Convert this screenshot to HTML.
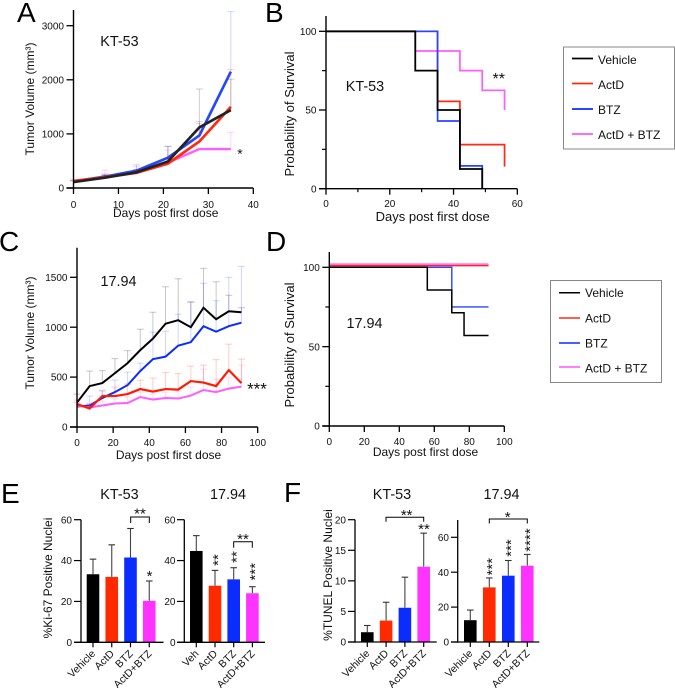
<!DOCTYPE html>
<html>
<head>
<meta charset="utf-8">
<style>
html,body{margin:0;padding:0;background:#fff;}
svg{display:block;font-family:"Liberation Sans",sans-serif;fill:#111;}
</style>
</head>
<body>
<svg id="fig" xmlns="http://www.w3.org/2000/svg" width="675" height="688" viewBox="0 0 675 688">
<rect width="675" height="688" fill="#fff"/>
<g font-size="28" fill="#000">
<text x="17" y="22">A</text>
<text x="265" y="22">B</text>
<text x="-1" y="251">C</text>
<text x="266" y="251">D</text>
<text x="1" y="503">E</text>
<text x="284" y="502">F</text>
</g>
<g font-size="14.4" fill="#111" text-anchor="middle">
<text x="119.5" y="46">KT-53</text>
<text x="365" y="91">KT-53</text>
<text x="118.5" y="286">17.94</text>
<text x="364.5" y="328">17.94</text>
<text x="119.5" y="499">KT-53</text>
<text x="228" y="499">17.94</text>
<text x="392" y="499">KT-53</text>
<text x="501.5" y="499">17.94</text>
</g>
<g font-size="12" fill="#111">
<rect x="563.5" y="47" width="111" height="102" fill="none" stroke="#888" stroke-width="1"/>
<line x1="572" x2="593" y1="58.5" y2="58.5" stroke="#000" stroke-width="1.7"/>
<text x="598" y="64">Vehicle</text>
<line x1="572" x2="593" y1="83.5" y2="83.5" stroke="#ff2a12" stroke-width="1.7"/>
<text x="598" y="89">ActD</text>
<line x1="572" x2="593" y1="109" y2="109" stroke="#0a2cff" stroke-width="1.7"/>
<text x="598" y="114">BTZ</text>
<line x1="572" x2="593" y1="134" y2="134" stroke="#ff55ff" stroke-width="1.7"/>
<text x="598" y="139">ActD + BTZ</text>
</g>
<g font-size="12" fill="#111">
<rect x="550.5" y="280.5" width="111" height="102" fill="none" stroke="#888" stroke-width="1"/>
<line x1="559" x2="580" y1="292.7" y2="292.7" stroke="#000" stroke-width="1.5"/>
<text x="585" y="297">Vehicle</text>
<line x1="559" x2="580" y1="318" y2="318" stroke="#ff2a12" stroke-width="1.5"/>
<text x="585" y="322.5">ActD</text>
<line x1="559" x2="580" y1="343" y2="343" stroke="#0a2cff" stroke-width="1.5"/>
<text x="585" y="347.5">BTZ</text>
<line x1="559" x2="580" y1="367" y2="367" stroke="#ff55ff" stroke-width="1.5"/>
<text x="585" y="372.5">ActD + BTZ</text>
</g>
</svg>
<script>
/* ---------- Panel A data ---------- */
var aDays = [0, 7, 14, 21, 28, 35];
var aVehicle = [110, 190, 290, 490, 1120, 1440];
var aActD = [130, 200, 280, 450, 860, 1500];
var aBTZ = [120, 210, 320, 560, 970, 2150];
var aCombo = [120, 210, 300, 470, 720, 720];
var aVehicleTop = [130, 240, 340, 770, 1830, 2010];
var aActDTop = [150, 240, 330, 560, 1190, 2190];
var aBTZTop = [140, 260, 430, 770, 1230, 3260];
var aComboTop = [140, 330, 400, 700, 730, 1030];
var aXTicks = [0, 10, 20, 30, 40];
var aYTicks = [0, 1000, 2000, 3000];

/* ---------- Panel C data ---------- */
var cDays = [0, 7, 14, 21, 28, 35, 42, 49, 56, 63, 70, 77, 84, 91];
var cVehicle = [245, 410, 440, 540, 640, 770, 885, 1035, 1070, 1000, 1195, 1080, 1160, 1150];
var cBTZ = [205, 215, 290, 350, 420, 560, 680, 705, 815, 850, 1010, 955, 1010, 1045];
var cActD = [230, 185, 310, 310, 330, 380, 355, 380, 375, 460, 445, 410, 570, 440];
var cCombo = [215, 195, 215, 235, 240, 300, 275, 290, 285, 315, 370, 350, 385, 405];
var cVehicleTop = [330, 560, 565, 685, 765, 980, 1150, 1405, 1485, 1255, 1590, 1455, 1320, 1195];
var cBTZTop = [250, 310, 360, 470, 550, 640, 950, 960, 1130, 1250, 1440, 1265, 1500, 1610];
var cActDTop = [270, 230, 370, 400, 430, 470, 490, 545, 535, 610, 620, 675, 830, 680];
var cComboTop = [240, 240, 260, 280, 300, 350, 330, 350, 360, 400, 580, 480, 500, 620];
var cXTicks = [0, 20, 40, 60, 80, 100];
var cYTicks = [0, 500, 1000, 1500];

/* ---------- Panel B data ---------- */
var bVehicleT = [0, 28, 35, 42, 49];
var bVehicleS = [100, 75, 50, 12.5, 0];
var bActDT = [0, 35, 42, 56];
var bActDS = [100, 55.5, 28, 14];
var bBTZT = [0, 35, 42, 49];
var bBTZS = [100, 43, 14.5, 0];
var bComboT = [0, 28, 42, 49, 56];
var bComboS = [100, 87.5, 75, 62.5, 50];
var bXTicks = [0, 20, 40, 60];
var bXMinor = [10, 30, 50];
var survivalYTicks = [0, 50, 100];
var survivalYMinor = [25, 75];

/* ---------- Panel D data ---------- */
var dEnd = 91;
var dVehicleT = [0, 56, 70, 77];
var dVehicleS = [100, 85.7, 71.4, 57];
var dActDT = [0];
var dActDS = [101];
var dBTZT = [0, 70];
var dBTZS = [100, 75];
var dComboT = [0];
var dComboS = [102];
var dXTicks = [0, 20, 40, 60, 80, 100];

/* ---------- Bar panels data ---------- */
var e1Labels = ['Vehicle', 'ActD', 'BTZ', 'ActD+BTZ'];
var e1Means = [33.3, 32, 41.5, 20.3];
var e1Tops = [40.7, 47.7, 55.7, 30];
var e2Labels = ['Veh', 'ActD', 'BTZ', 'ActD+BTZ'];
var e2Means = [44.7, 27.7, 30.8, 24];
var e2Tops = [52.2, 35.2, 36.5, 27.2];
var f1Labels = ['Vehicle', 'ActD', 'BTZ', 'ActD+BTZ'];
var f1Means = [1.6, 3.5, 5.6, 12.3];
var f1Tops = [2.7, 6.5, 10.6, 17.8];
var f2Labels = ['Vehicle', 'ActD', 'BTZ', 'ActD+BTZ'];
var f2Means = [12.5, 31.3, 38, 43.7];
var f2Tops = [18.3, 36.7, 46.7, 50.2];
var eYTicks = [0, 20, 40, 60];
var f1YTicks = [0, 5, 10, 15, 20];
var f2YTicks = [0, 20, 40, 60];

var RED = '#ff2a12', BLUE = '#2447ff', PINK = '#ff5cff', BLACK = '#000';
var BARCOLORS = ['#000', '#ff2a00', '#0a2cff', '#ff33ff'];
var SVGNS = 'http://www.w3.org/2000/svg';
var fig = document.getElementById('fig');

function make(tag, parent, props) {
  var e = document.createElementNS(SVGNS, tag);
  for (var k in props) e.setAttribute(k, props[k]);
  parent.appendChild(e);
  return e;
}
function linear(d0, d1, r0, r1) {
  return function (v) { return r0 + (v - d0) / (d1 - d0) * (r1 - r0); };
}
function group(name) {
  var g = make('g', fig, {});
  
  
  return g;
}
function seg(g, name, x1, y1, x2, y2, color, w, op) {
  var l = make('line', g, {x1: x1, y1: y1, x2: x2, y2: y2, stroke: color, 'stroke-width': w, 'stroke-opacity': op === undefined ? 1 : op});
  
  
  return l;
}
function label(g, name, str, x, y, size, anchor, rot) {
  var t = make('text', g, {x: x, y: y, 'font-size': size, 'text-anchor': anchor || 'middle'});
  if (rot) t.setAttribute('transform', 'rotate(' + rot + ' ' + x + ' ' + y + ')');
  t.textContent = str;
  
  
  return t;
}
function axes(g, o) {
  seg(g, 'y-axis-line', o.x0, o.yTop, o.x0, o.y0 + 0.7, '#000', 1.4);
  seg(g, 'x-axis-line', o.x0 - 7, o.y0, o.xEnd, o.y0, '#000', 1.4);
  o.xTicks.forEach(function (v) {
    seg(g, 'x-tick', o.sx(v), o.y0, o.sx(v), o.y0 + 6, '#000', 1.3);
    label(g, 'x-tick-label', String(v), o.sx(v), o.xLabelY, 10);
  });
  (o.xMinor || []).forEach(function (v) {
    seg(g, 'x-minor-tick', o.sx(v), o.y0, o.sx(v), o.y0 + 3.5, '#000', 1.2);
  });
  o.yTicks.forEach(function (v) {
    seg(g, 'y-tick', o.x0 - 7, o.sy(v), o.x0, o.sy(v), '#000', 1.3);
    label(g, 'y-tick-label', String(v), o.x0 - 9.5, o.sy(v) + 3.6, 10, 'end');
  });
  (o.yMinor || []).forEach(function (v) {
    seg(g, 'y-minor-tick', o.x0 - 4, o.sy(v), o.x0, o.sy(v), '#000', 1.2);
  });
}
function polyline(g, name, pts, color, w) {
  var p = make('polyline', g, {points: pts.join(' '), fill: 'none', stroke: color, 'stroke-width': w, 'stroke-linejoin': 'miter'});
  
  
  return p;
}
function tumorSeries(g, name, days, vals, tops, color, sx, sy, w, errOp) {
  days.forEach(function (d, i) {
    seg(g, name + '-error-bar', sx(d), sy(vals[i]), sx(d), sy(tops[i]), color, 1, errOp);
    seg(g, name + '-error-cap', sx(d) - 3.5, sy(tops[i]), sx(d) + 3.5, sy(tops[i]), color, 1, errOp);
  });
  var pts = days.map(function (d, i) { return sx(d) + ',' + sy(vals[i]); });
  polyline(g, name + '-line', pts, color, w);
}
function survival(g, name, times, surv, end, color, sx, sy, w) {
  var pts = [];
  times.forEach(function (t, i) {
    if (i > 0) pts.push(sx(t) + ',' + sy(surv[i - 1]));
    pts.push(sx(t) + ',' + sy(surv[i]));
  });
  if (end > times[times.length - 1]) pts.push(sx(end) + ',' + sy(surv[surv.length - 1]));
  polyline(g, name + '-survival', pts, color, w);
}
function bars(g, labels, means, tops, xFirst, xStep, sy, y0) {
  labels.forEach(function (lab, i) {
    var cx = xFirst + xStep * i;
    seg(g, 'bar-error-stem', cx, sy(means[i]), cx, sy(tops[i]), '#444', 1.1);
    seg(g, 'bar-error-cap', cx - 3.3, sy(tops[i]), cx + 3.3, sy(tops[i]), '#333', 1.1);
    var r = make('rect', g, {x: cx - 6.3, y: sy(means[i]), width: 12.6, height: y0 - sy(means[i]), fill: BARCOLORS[i]});
    
    
    seg(g, 'x-tick', cx, y0, cx, y0 + 5, '#000', 1.2);
    label(g, 'x-tick-label', lab, cx + 3, y0 + 12, 10.5, 'end', -45);
  });
}
/* cx, cy = visual centre of the asterisks; glyphs sit about half an em above the baseline */
function stars(g, name, str, cx, cy, size, vertical) {
  var shift = size * 0.52;
  if (vertical) return label(g, name, str, cx + shift, cy, size, 'middle', -90);
  return label(g, name, str, cx, cy + shift, size, 'middle');
}
function bracket(g, name, x1, x2, y, drop) {
  var p = make('path', g, {d: 'M' + x1 + ' ' + (y + drop) + 'V' + y + 'H' + x2 + 'V' + (y + drop), fill: 'none', stroke: '#000', 'stroke-width': 1});
  
  
}

/* Panel A */
(function () {
  var g = group('panel-a-tumor-chart');
  var sx = linear(0, 40, 73.5, 253.3), sy = linear(0, 3000, 188, 25.7);
  tumorSeries(g, 'combo', aDays, aCombo, aComboTop, PINK, sx, sy, 2.4, 0.3);
  tumorSeries(g, 'btz', aDays, aBTZ, aBTZTop, BLUE, sx, sy, 2.7, 0.22);
  tumorSeries(g, 'actd', aDays, aActD, aActDTop, RED, sx, sy, 2.7, 0.22);
  tumorSeries(g, 'vehicle', aDays, aVehicle, aVehicleTop, '#222', sx, sy, 2.7, 0.22);
  axes(g, {x0: 73.5, y0: 188, yTop: 10, xEnd: 253.3, sx: sx, sy: sy, xTicks: aXTicks, yTicks: aYTicks, xLabelY: 208});
  label(g, 'x-axis-title', 'Days post first dose', 165.7, 217, 12);
  label(g, 'y-axis-title', 'Tumor Volume (mm³)', 34, 99, 12, 'middle', -90);
  stars(g, 'significance-combo', '*', 240, 151, 14);
})();

/* Panel B */
(function () {
  var g = group('panel-b-survival-chart');
  var sx = linear(0, 60, 326, 517.3), sy = linear(0, 100, 188.7, 31.3);
  survival(g, 'combo', bComboT, bComboS, 56, PINK, sx, sy, 1.7);
  survival(g, 'actd', bActDT, bActDS, 56, RED, sx, sy, 1.7);
  survival(g, 'btz', bBTZT, bBTZS, 49, BLUE, sx, sy, 1.7);
  survival(g, 'vehicle', bVehicleT, bVehicleS, 49, BLACK, sx, sy, 1.8);
  axes(g, {x0: 326, y0: 188.7, yTop: 16, xEnd: 517.3, sx: sx, sy: sy, xTicks: bXTicks, xMinor: bXMinor, yTicks: survivalYTicks, yMinor: survivalYMinor, xLabelY: 207});
  label(g, 'x-axis-title', 'Days post first dose', 432.7, 221, 13);
  label(g, 'y-axis-title', 'Probability of Survival', 294, 114, 13, 'middle', -90);
  stars(g, 'significance-combo', '**', 498.7, 75.7, 16);
})();

/* Panel C */
(function () {
  var g = group('panel-c-tumor-chart');
  var sx = linear(0, 100, 77, 257.7), sy = linear(0, 1500, 427, 277.3);
  tumorSeries(g, 'vehicle', cDays, cVehicle, cVehicleTop, '#000', sx, sy, 2, 0.22);
  tumorSeries(g, 'btz', cDays, cBTZ, cBTZTop, '#0a2cff', sx, sy, 2, 0.2);
  tumorSeries(g, 'combo', cDays, cCombo, cComboTop, PINK, sx, sy, 2, 0.25);
  tumorSeries(g, 'actd', cDays, cActD, cActDTop, '#ff1a00', sx, sy, 2.2, 0.22);
  axes(g, {x0: 77, y0: 427, yTop: 247.7, xEnd: 257.7, sx: sx, sy: sy, xTicks: cXTicks, yTicks: cYTicks, xLabelY: 446});
  label(g, 'x-axis-title', 'Days post first dose', 168.5, 459, 12);
  label(g, 'y-axis-title', 'Tumor Volume (mm³)', 34, 333, 12, 'middle', -90);
  stars(g, 'significance-combo', '***', 257, 385.7, 17);
})();

/* Panel D */
(function () {
  var g = group('panel-d-survival-chart');
  var sx = linear(0, 100, 329.3, 504.3), sy = linear(0, 100, 426, 267.3);
  survival(g, 'combo', dComboT, dComboS, dEnd, PINK, sx, sy, 1.6);
  survival(g, 'actd', dActDT, dActDS, dEnd, RED, sx, sy, 1.4);
  survival(g, 'btz', dBTZT, dBTZS, dEnd, BLUE, sx, sy, 1.4);
  survival(g, 'vehicle', dVehicleT, dVehicleS, dEnd, BLACK, sx, sy, 1.5);
  axes(g, {x0: 329.3, y0: 426, yTop: 252, xEnd: 504.3, sx: sx, sy: sy, xTicks: dXTicks, yTicks: survivalYTicks, yMinor: survivalYMinor, xLabelY: 445});
  label(g, 'x-axis-title', 'Days post first dose', 425.5, 456, 12);
  label(g, 'y-axis-title', 'Probability of Survival', 294, 345, 13, 'middle', -90);
})();

/* Panel E left */
(function () {
  var g = group('panel-e-kt53-bars');
  var sy = linear(0, 60, 642.3, 519.7);
  bars(g, e1Labels, e1Means, e1Tops, 93, 18.75, sy, 642.3);
  seg(g, 'y-axis-line', 81, 519.7, 81, 643, '#000', 1.3);
  seg(g, 'x-axis-line', 74, 642.3, 163.5, 642.3, '#000', 1.3);
  eYTicks.forEach(function (v) {
    seg(g, 'y-tick', 74, sy(v), 81, sy(v), '#000', 1.2);
    label(g, 'y-tick-label', String(v), 72, sy(v) + 3.6, 10, 'end');
  });
  label(g, 'y-axis-title', '%Ki-67 Positive Nuclei', 52, 578, 12, 'middle', -90);
  bracket(g, 'comparison-bracket', 130.7, 149.3, 517, 6);
  stars(g, 'significance-bracket', '**', 140, 510.7, 15);
  stars(g, 'significance-combo', '*', 149.5, 573.3, 15);
})();

/* Panel E right */
(function () {
  var g = group('panel-e-1794-bars');
  var sy = linear(0, 60, 642.3, 519.7);
  bars(g, e2Labels, e2Means, e2Tops, 196.3, 18.7, sy, 642.3);
  seg(g, 'y-axis-line', 184.3, 519.7, 184.3, 643, '#000', 1.3);
  seg(g, 'x-axis-line', 177, 642.3, 265, 642.3, '#000', 1.3);
  eYTicks.forEach(function (v) {
    seg(g, 'y-tick', 177, sy(v), 184.3, sy(v), '#000', 1.2);
    label(g, 'y-tick-label', String(v), 175.5, sy(v) + 3.6, 10, 'end');
  });
  bracket(g, 'comparison-bracket', 233.7, 252.3, 541.7, 6);
  stars(g, 'significance-bracket', '**', 243, 536, 15);
  stars(g, 'significance-actd', '**', 215, 560, 15, true);
  stars(g, 'significance-btz', '**', 233.7, 557, 15, true);
  stars(g, 'significance-combo', '***', 252.3, 571.7, 15, true);
})();

/* Panel F left */
(function () {
  var g = group('panel-f-kt53-bars');
  var sy = linear(0, 20, 642, 519.7);
  bars(g, f1Labels, f1Means, f1Tops, 367.3, 18.8, sy, 642);
  seg(g, 'y-axis-line', 355, 519.7, 355, 642.7, '#000', 1.3);
  seg(g, 'x-axis-line', 348, 642, 436.7, 642, '#000', 1.3);
  f1YTicks.forEach(function (v) {
    seg(g, 'y-tick', 348, sy(v), 355, sy(v), '#000', 1.2);
    label(g, 'y-tick-label', String(v), 346, sy(v) + 3.6, 10, 'end');
  });
  label(g, 'y-axis-title', '%TUNEL Positive Nuclei', 332, 575, 12, 'middle', -90);
  bracket(g, 'comparison-bracket', 386, 423.7, 517.3, 4.5);
  stars(g, 'significance-bracket', '**', 406.7, 512.3, 15);
  stars(g, 'significance-combo', '**', 424, 526, 15);
})();

/* Panel F right */
(function () {
  var g = group('panel-f-1794-bars');
  var sy = linear(0, 60, 642, 537.3);
  bars(g, f2Labels, f2Means, f2Tops, 470.3, 19, sy, 642);
  seg(g, 'y-axis-line', 457.7, 520, 457.7, 642.7, '#000', 1.3);
  seg(g, 'x-axis-line', 451, 642, 539.3, 642, '#000', 1.3);
  f2YTicks.forEach(function (v) {
    seg(g, 'y-tick', 451, sy(v), 457.7, sy(v), '#000', 1.2);
    label(g, 'y-tick-label', String(v), 449, sy(v) + 3.6, 10, 'end');
  });
  bracket(g, 'comparison-bracket', 489.3, 527.3, 519, 4.5);
  stars(g, 'significance-bracket', '*', 507.7, 514, 15);
  stars(g, 'significance-actd', '***', 489.3, 566.7, 15, true);
  stars(g, 'significance-btz', '***', 508.3, 548, 15, true);
  stars(g, 'significance-combo', '****', 527.3, 540, 15, true);
})();
</script>
</body>
</html>
